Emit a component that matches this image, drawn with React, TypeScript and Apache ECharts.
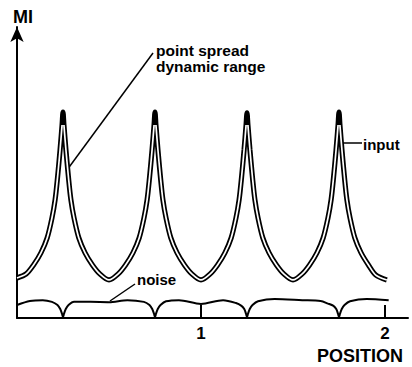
import React, { useEffect, useRef } from "react";
import * as echarts from "echarts";

// Position (x) and MI values of the peaked response curve
const peakPositions = [
  0.0, 0.05, 0.09, 0.13, 0.164, 0.19, 0.207, 0.22, 0.234, 0.245, 0.25, 0.255, 0.266, 0.28, 0.293, 0.31, 0.336, 0.37, 0.41, 0.45,
  0.5, 0.55, 0.59, 0.63, 0.664, 0.69, 0.707, 0.72, 0.734, 0.745, 0.75, 0.755, 0.766, 0.78, 0.793, 0.81, 0.836, 0.87, 0.91, 0.95,
  1.0, 1.05, 1.09, 1.13, 1.164, 1.19, 1.207, 1.22, 1.234, 1.245, 1.25, 1.255, 1.266, 1.28, 1.293, 1.31, 1.336, 1.37, 1.41, 1.45,
  1.5, 1.55, 1.59, 1.63, 1.664, 1.69, 1.707, 1.72, 1.734, 1.745, 1.75, 1.755, 1.766, 1.78, 1.793, 1.81, 1.836, 1.87, 1.91, 1.95,
  2.01,
];
const peakMI = [
  1.39, 1.53, 1.84, 2.26, 2.78, 3.47, 4.1, 4.86, 5.83, 6.7, 7.15, 6.7, 5.83, 4.86, 4.1, 3.47, 2.78, 2.26, 1.84, 1.53,
  1.32, 1.53, 1.84, 2.26, 2.78, 3.47, 4.1, 4.86, 5.83, 6.7, 7.15, 6.7, 5.83, 4.86, 4.1, 3.47, 2.78, 2.26, 1.84, 1.53,
  1.32, 1.53, 1.84, 2.26, 2.78, 3.47, 4.1, 4.86, 5.83, 6.7, 7.12, 6.7, 5.83, 4.86, 4.1, 3.47, 2.78, 2.26, 1.84, 1.53,
  1.32, 1.53, 1.84, 2.26, 2.78, 3.47, 4.1, 4.86, 5.83, 6.7, 7.15, 6.7, 5.83, 4.86, 4.1, 3.47, 2.78, 2.26, 1.84, 1.49,
  1.32,
];

// Noise curve
const noisePositions = [
  0.0, 0.07, 0.14, 0.19, 0.22, 0.235, 0.245, 0.25, 0.255, 0.265, 0.28, 0.31, 0.4, 0.5, 0.6, 0.69, 0.72, 0.735, 0.745, 0.75,
  0.755, 0.765, 0.78, 0.81, 0.88, 1.0, 1.12, 1.19, 1.22, 1.235, 1.245, 1.25, 1.255, 1.265, 1.28, 1.31, 1.4, 1.55, 1.65, 1.69,
  1.72, 1.735, 1.745, 1.75, 1.755, 1.765, 1.78, 1.81, 1.9, 2.02,
];
const noiseMI = [
  0.45, 0.59, 0.62, 0.56, 0.45, 0.31, 0.14, 0.03, 0.14, 0.31, 0.45, 0.56, 0.56, 0.55, 0.62, 0.56, 0.45, 0.31, 0.14, 0.03,
  0.14, 0.31, 0.45, 0.58, 0.62, 0.49, 0.62, 0.52, 0.42, 0.31, 0.14, 0.03, 0.14, 0.31, 0.45, 0.58, 0.66, 0.62, 0.59, 0.5,
  0.42, 0.31, 0.14, 0.03, 0.14, 0.31, 0.45, 0.58, 0.66, 0.62,
];

const xTickValues = [1, 2];

const FONT = "'Liberation Sans', Arial, Helvetica, sans-serif";

export default function App() {
  const ref = useRef<HTMLDivElement>(null);
  useEffect(() => {
    if (!ref.current) return;
    const chart = echarts.init(ref.current, undefined, { renderer: "svg" });
    const peakData = peakPositions.map((x, i) => [x, peakMI[i]]);
    const peakInner = peakPositions.map((x, i) => (peakMI[i] > 6.9 ? [x, null] : [x, peakMI[i]]));
    const noiseData = noisePositions.map((x, i) => [x, noiseMI[i]]);
    chart.setOption({
      animation: false,
      backgroundColor: "#ffffff",
      grid: { left: 17, right: 4, top: 27, bottom: 49, containLabel: false },
      xAxis: {
        type: "value",
        min: 0,
        max: 2.125,
        interval: 1,
        axisLine: { show: true, lineStyle: { color: "#000", width: 2 } },
        axisTick: {
          show: true,
          inside: true,
          length: 13,
          customValues: xTickValues,
          lineStyle: { color: "#000", width: 2 },
        },
        axisLabel: {
          show: true,
          customValues: xTickValues,
          color: "#000",
          fontFamily: FONT,
          fontWeight: "bold",
          fontSize: 17,
          margin: 7,
        },
        splitLine: { show: false },
      },
      yAxis: {
        type: "value",
        min: 0,
        max: 10.1,
        axisLine: {
          show: true,
          symbol: ["none", "arrow"],
          symbolSize: [10, 15],
          lineStyle: { color: "#000", width: 2 },
        },
        axisTick: { show: false },
        axisLabel: { show: false },
        splitLine: { show: false },
      },
      series: [
        {
          name: "input",
          type: "line",
          data: peakData,
          showSymbol: false,
          smooth: 0.3,
          lineStyle: { color: "#000", width: 5.2 },
          z: 3,
        },
        {
          name: "point spread",
          type: "line",
          data: peakInner,
          showSymbol: false,
          smooth: 0.3,
          connectNulls: false,
          lineStyle: { color: "#fff", width: 1.7 },
          z: 4,
        },
        {
          name: "noise",
          type: "line",
          data: noiseData,
          showSymbol: false,
          smooth: 0.3,
          lineStyle: { color: "#000", width: 2 },
          z: 3,
        },
      ],
      graphic: [
        {
          type: "text",
          style: { text: "MI", x: 13, y: 17, verticalAlign: "middle", font: `bold 18px ${FONT}`, fill: "#000" },
        },
        {
          type: "text",
          style: { text: "POSITION", x: 403, y: 356, align: "right", verticalAlign: "middle", font: `bold 18px ${FONT}`, fill: "#000" },
        },
        {
          type: "text",
          style: {
            text: "point spread\ndynamic range",
            x: 156,
            y: 42,
            verticalAlign: "top",
            lineHeight: 16,
            font: `bold 15.5px ${FONT}`,
            fill: "#000",
          },
        },
        {
          type: "line",
          shape: { x1: 153, y1: 53, x2: 67, y2: 170 },
          style: { stroke: "#000", lineWidth: 1.5 },
        },
        {
          type: "text",
          style: { text: "input", x: 363, y: 144, verticalAlign: "middle", font: `bold 15px ${FONT}`, fill: "#000" },
        },
        {
          type: "line",
          shape: { x1: 341, y1: 143, x2: 362, y2: 143 },
          style: { stroke: "#000", lineWidth: 1.5 },
        },
        {
          type: "text",
          style: { text: "noise", x: 137, y: 279, verticalAlign: "middle", font: `bold 15px ${FONT}`, fill: "#000" },
        },
        {
          type: "line",
          shape: { x1: 135, y1: 284, x2: 110, y2: 301 },
          style: { stroke: "#000", lineWidth: 1.5 },
        },
      ],
    });
    return () => chart.dispose();
  }, []);
  return <div ref={ref} style={{ width: 412, height: 367, position: "absolute", left: 0, top: 0 }} />;
}
